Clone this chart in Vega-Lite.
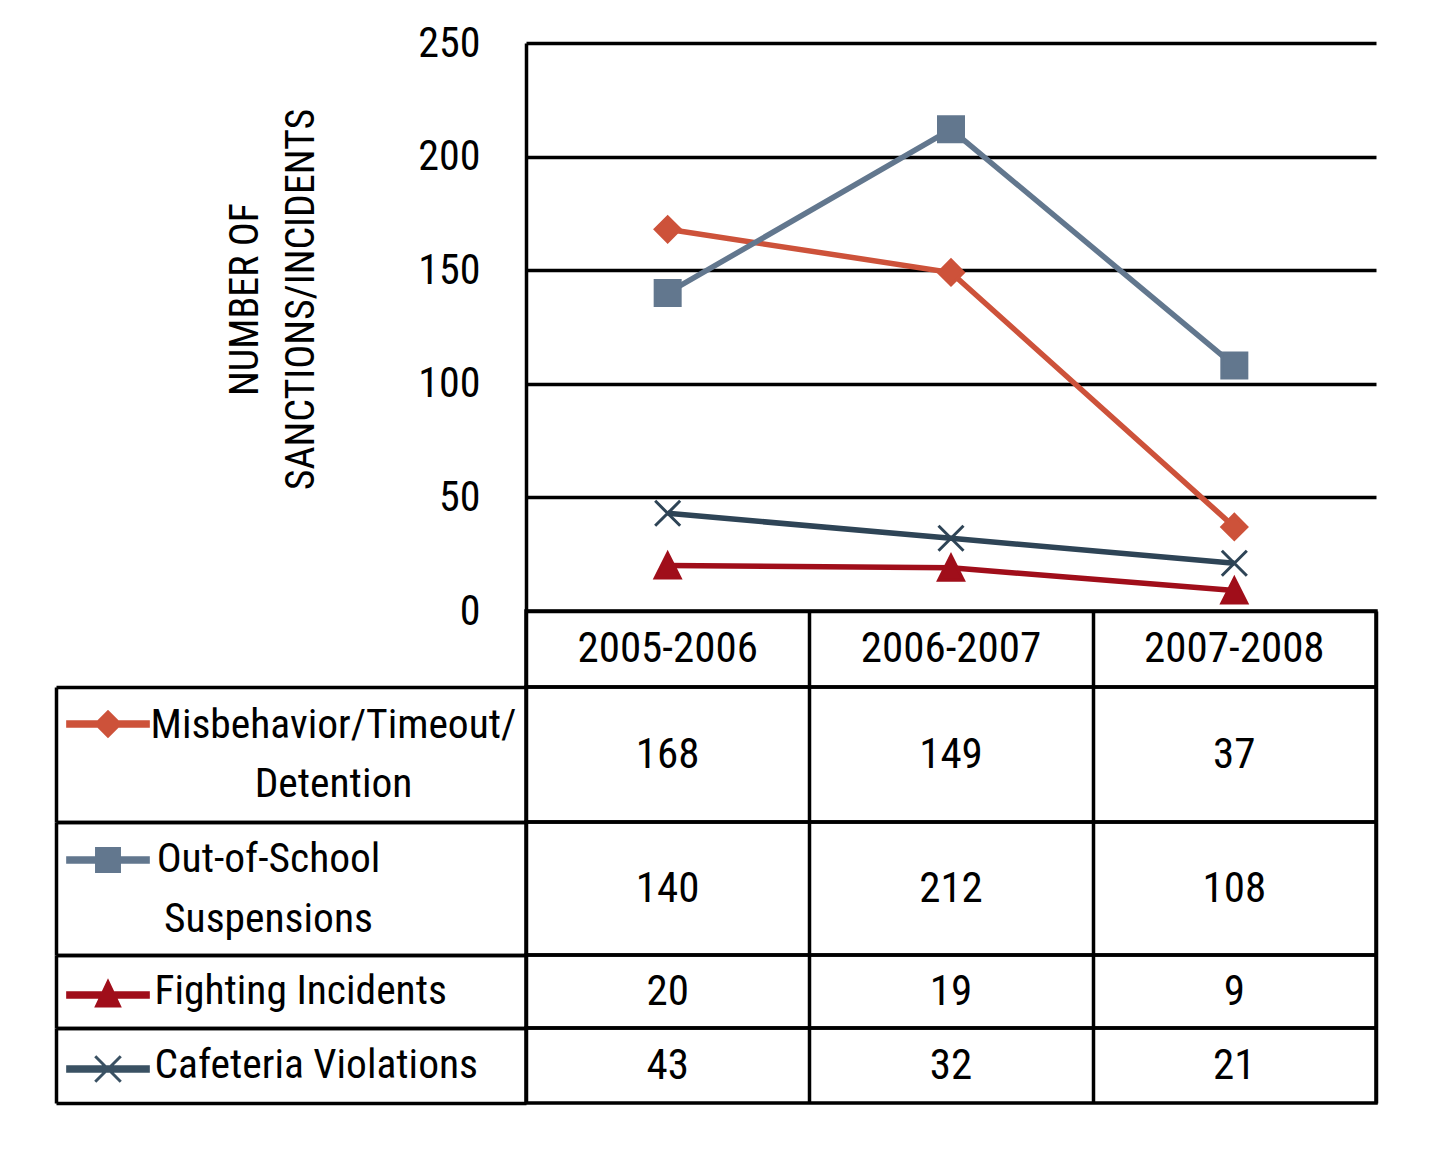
{
  "$schema": "https://vega.github.io/schema/vega-lite/v6.json",
  "background": "white",
  "padding": {"left": 52, "top": 22, "right": 60, "bottom": 40},
  "config": {
    "font": "Roboto Condensed",
    "view": {"stroke": null},
    "axis": {"labelColor": "black", "titleColor": "black"},
    "legend": {"padding": 0}
  },
  "datasets": {
    "sanctions": [
      {"year": "2005-2006", "series": "Misbehavior/Timeout/ Detention", "value": 168},
      {"year": "2006-2007", "series": "Misbehavior/Timeout/ Detention", "value": 149},
      {"year": "2007-2008", "series": "Misbehavior/Timeout/ Detention", "value": 37},
      {"year": "2005-2006", "series": "Out-of-School Suspensions", "value": 140},
      {"year": "2006-2007", "series": "Out-of-School Suspensions", "value": 212},
      {"year": "2007-2008", "series": "Out-of-School Suspensions", "value": 108},
      {"year": "2005-2006", "series": "Fighting Incidents", "value": 20},
      {"year": "2006-2007", "series": "Fighting Incidents", "value": 19},
      {"year": "2007-2008", "series": "Fighting Incidents", "value": 9},
      {"year": "2005-2006", "series": "Cafeteria Violations", "value": 43},
      {"year": "2006-2007", "series": "Cafeteria Violations", "value": 32},
      {"year": "2007-2008", "series": "Cafeteria Violations", "value": 21}
    ]
  },
  "data": {"name": "sanctions"},
  "spacing": 0,
  "bounds": "flush",
  "resolve": {
    "scale": {"color": "independent", "stroke": "independent", "shape": "independent", "size": "independent"},
    "legend": {"shape": "independent", "color": "independent"}
  },
  "vconcat": [
    {
      "width": 850,
      "height": 568,
      "encoding": {
        "x": {"field": "year", "type": "ordinal", "scale": {"type": "point", "padding": 0.5}, "axis": null},
        "y": {
          "field": "value",
          "type": "quantitative",
          "scale": {"domain": [0, 250], "nice": false},
          "axis": {
            "values": [0, 50, 100, 150, 200, 250],
            "grid": true,
            "gridColor": "black",
            "gridWidth": 3.5,
            "gridOpacity": 1,
            "ticks": false,
            "domain": true,
            "domainColor": "black",
            "domainWidth": 3.5,
            "labelFontSize": 42,
            "labelPadding": 46,
            "title": ["NUMBER OF", "SANCTIONS/INCIDENTS"],
            "titleFontSize": 40,
            "titleFontWeight": "normal",
            "titleLineHeight": 56,
            "titleX": -269,
            "titleY": 256,
            "titleBaseline": "alphabetic"
          }
        },
        "color": {
          "field": "series",
          "type": "nominal",
          "scale": {
            "domain": ["Misbehavior/Timeout/ Detention", "Out-of-School Suspensions", "Fighting Incidents", "Cafeteria Violations"],
            "range": ["#CD523A", "#62778E", "#A00E1A", "#2E4456"]
          },
          "legend": null
        }
      },
      "layer": [
        {"mark": {"type": "line", "strokeWidth": 5.5}},
        {
          "mark": {"type": "point", "filled": true, "opacity": 1, "strokeWidth": 3},
          "encoding": {
            "stroke": {
              "field": "series",
              "type": "nominal",
              "scale": {
                "domain": ["Misbehavior/Timeout/ Detention", "Out-of-School Suspensions", "Fighting Incidents", "Cafeteria Violations"],
                "range": ["#CD523A", "#62778E", "#A00E1A", "#2E4456"]
              },
              "legend": null
            },
            "shape": {
              "field": "series",
              "type": "nominal",
              "scale": {
                "domain": ["Misbehavior/Timeout/ Detention", "Out-of-School Suspensions", "Fighting Incidents", "Cafeteria Violations"],
                "range": ["diamond", "square", "M0,-1L1,1L-1,1Z", "M-1,-1L1,1M1,-1L-1,1"]
              },
              "legend": null
            },
            "size": {
              "field": "series",
              "type": "nominal",
              "scale": {
                "domain": ["Misbehavior/Timeout/ Detention", "Out-of-School Suspensions", "Fighting Incidents", "Cafeteria Violations"],
                "range": [625, 625, 625, 484]
              },
              "legend": null
            }
          }
        }
      ]
    },
    {
      "width": 850,
      "height": 76,
      "view": {"stroke": "black", "strokeWidth": 3.5},
      "transform": [{"aggregate": [{"op": "count", "as": "n"}], "groupby": ["year"]}],
      "mark": {"type": "text", "fontSize": 43, "color": "black"},
      "encoding": {
        "x": {
          "field": "year",
          "type": "ordinal",
          "scale": {"paddingInner": 0, "paddingOuter": 0},
          "axis": {"title": null, "labels": false, "ticks": false, "domain": false, "grid": true, "tickBand": "extent", "gridColor": "black", "gridWidth": 3.5, "gridOpacity": 1}
        },
        "text": {"field": "year"}
      }
    },
    {
      "width": 850,
      "height": 135,
      "view": {"stroke": "black", "strokeWidth": 3.5},
      "transform": [{"filter": "datum.series == 'Misbehavior/Timeout/ Detention'"}],
      "encoding": {
        "x": {
          "field": "year",
          "type": "ordinal",
          "scale": {"paddingInner": 0, "paddingOuter": 0},
          "axis": {"title": null, "labels": false, "ticks": false, "domain": false, "grid": true, "tickBand": "extent", "gridColor": "black", "gridWidth": 3.5, "gridOpacity": 1}
        },
        "y": {
          "field": "series",
          "type": "nominal",
          "scale": {"paddingInner": 0, "paddingOuter": 0},
          "axis": {
            "orient": "left", "offset": 470, "title": null,
            "domain": true, "domainColor": "black", "domainWidth": 3.5,
            "ticks": true, "tickBand": "extent", "tickSize": -470, "tickColor": "black", "tickWidth": 3.5,
            "labelAlign": "center", "labelBaseline": "middle", "labelPadding": 193, "labelOffset": -29, "labelFontSize": 41.5,
            "labelLineHeight": 59, "labelLimit": 600, "labelExpr": "split(datum.label, ' ')"
          }
        }
      },
      "layer": [
        {"mark": {"type": "text", "fontSize": 43, "color": "black"}, "encoding": {"text": {"field": "value", "type": "quantitative"}}},
        {
          "mark": {"type": "point", "filled": true, "color": "#CD523A"},
          "encoding": {
            "opacity": {"value": 0},
            "shape": {
              "field": "series", "type": "nominal",
              "scale": {"range": ["M-1,-0.09H1V0.09H-1ZM0,-0.34L0.34,0L0,0.34L-0.34,0Z"]},
              "legend": {"orient": "none", "legendX": -461, "legendY": -6, "title": null, "labelExpr": "''", "symbolSize": 7000, "symbolOpacity": 1, "symbolFillColor": "#CD523A"}
            }
          }
        }
      ]
    },
    {
      "width": 850,
      "height": 133,
      "view": {"stroke": "black", "strokeWidth": 3.5},
      "transform": [{"filter": "datum.series == 'Out-of-School Suspensions'"}],
      "encoding": {
        "x": {
          "field": "year",
          "type": "ordinal",
          "scale": {"paddingInner": 0, "paddingOuter": 0},
          "axis": {"title": null, "labels": false, "ticks": false, "domain": false, "grid": true, "tickBand": "extent", "gridColor": "black", "gridWidth": 3.5, "gridOpacity": 1}
        },
        "y": {
          "field": "series",
          "type": "nominal",
          "scale": {"paddingInner": 0, "paddingOuter": 0},
          "axis": {
            "orient": "left", "offset": 470, "title": null,
            "domain": true, "domainColor": "black", "domainWidth": 3.5,
            "ticks": true, "tickBand": "extent", "tickSize": -470, "tickColor": "black", "tickWidth": 3.5,
            "labelAlign": "center", "labelBaseline": "middle", "labelPadding": 258, "labelOffset": -29, "labelFontSize": 41.5,
            "labelLineHeight": 60, "labelLimit": 600, "labelExpr": "split(datum.label, ' ')"
          }
        }
      },
      "layer": [
        {"mark": {"type": "text", "fontSize": 43, "color": "black"}, "encoding": {"text": {"field": "value", "type": "quantitative"}}},
        {
          "mark": {"type": "point", "filled": true, "color": "#62778E"},
          "encoding": {
            "opacity": {"value": 0},
            "shape": {
              "field": "series", "type": "nominal",
              "scale": {"range": ["M-1,-0.09H1V0.09H-1ZM-0.31,-0.31H0.31V0.31H-0.31Z"]},
              "legend": {"orient": "none", "legendX": -461, "legendY": -5, "title": null, "labelExpr": "''", "symbolSize": 7000, "symbolOpacity": 1, "symbolFillColor": "#62778E"}
            }
          }
        }
      ]
    },
    {
      "width": 850,
      "height": 73,
      "view": {"stroke": "black", "strokeWidth": 3.5},
      "transform": [{"filter": "datum.series == 'Fighting Incidents'"}],
      "encoding": {
        "x": {
          "field": "year",
          "type": "ordinal",
          "scale": {"paddingInner": 0, "paddingOuter": 0},
          "axis": {"title": null, "labels": false, "ticks": false, "domain": false, "grid": true, "tickBand": "extent", "gridColor": "black", "gridWidth": 3.5, "gridOpacity": 1}
        },
        "y": {
          "field": "series",
          "type": "nominal",
          "scale": {"paddingInner": 0, "paddingOuter": 0},
          "axis": {
            "orient": "left", "offset": 470, "title": null,
            "domain": true, "domainColor": "black", "domainWidth": 3.5,
            "ticks": true, "tickBand": "extent", "tickSize": -470, "tickColor": "black", "tickWidth": 3.5,
            "labelAlign": "left", "labelBaseline": "middle", "labelPadding": 372, "labelFontSize": 41.5,
            "labelLimit": 600
          }
        }
      },
      "layer": [
        {"mark": {"type": "text", "fontSize": 43, "color": "black"}, "encoding": {"text": {"field": "value", "type": "quantitative"}}},
        {
          "mark": {"type": "point", "filled": true, "color": "#A00E1A"},
          "encoding": {
            "opacity": {"value": 0},
            "shape": {
              "field": "series", "type": "nominal",
              "scale": {"range": ["M-1,-0.09H1V0.09H-1ZM0,-0.4L0.33,0.3L-0.33,0.3Z"]},
              "legend": {"orient": "none", "legendX": -461, "legendY": -3, "title": null, "labelExpr": "''", "symbolSize": 7000, "symbolOpacity": 1, "symbolFillColor": "#A00E1A"}
            }
          }
        }
      ]
    },
    {
      "width": 850,
      "height": 75,
      "view": {"stroke": "black", "strokeWidth": 3.5},
      "transform": [{"filter": "datum.series == 'Cafeteria Violations'"}],
      "encoding": {
        "x": {
          "field": "year",
          "type": "ordinal",
          "scale": {"paddingInner": 0, "paddingOuter": 0},
          "axis": {"title": null, "labels": false, "ticks": false, "domain": false, "grid": true, "tickBand": "extent", "gridColor": "black", "gridWidth": 3.5, "gridOpacity": 1}
        },
        "y": {
          "field": "series",
          "type": "nominal",
          "scale": {"paddingInner": 0, "paddingOuter": 0},
          "axis": {
            "orient": "left", "offset": 470, "title": null,
            "domain": true, "domainColor": "black", "domainWidth": 3.5,
            "ticks": true, "tickBand": "extent", "tickSize": -470, "tickColor": "black", "tickWidth": 3.5,
            "labelAlign": "left", "labelBaseline": "middle", "labelPadding": 372, "labelFontSize": 41.5,
            "labelLimit": 600
          }
        }
      },
      "layer": [
        {"mark": {"type": "text", "fontSize": 43, "color": "black"}, "encoding": {"text": {"field": "value", "type": "quantitative"}}},
        {
          "mark": {"type": "point", "filled": true, "color": "#3A5163"},
          "encoding": {
            "opacity": {"value": 0},
            "shape": {
              "field": "series", "type": "nominal",
              "scale": {"range": ["M-1,-0.09H1V0.09H-1ZM-0.33,-0.28L-0.28,-0.33L0,-0.05L0.28,-0.33L0.33,-0.28L0.05,0L0.33,0.28L0.28,0.33L0,0.05L-0.28,0.33L-0.33,0.28L-0.05,0Z"]},
              "legend": {"orient": "none", "legendX": -461, "legendY": -2, "title": null, "labelExpr": "''", "symbolSize": 7000, "symbolOpacity": 1, "symbolFillColor": "#3A5163"}
            }
          }
        }
      ]
    }
  ]
}
